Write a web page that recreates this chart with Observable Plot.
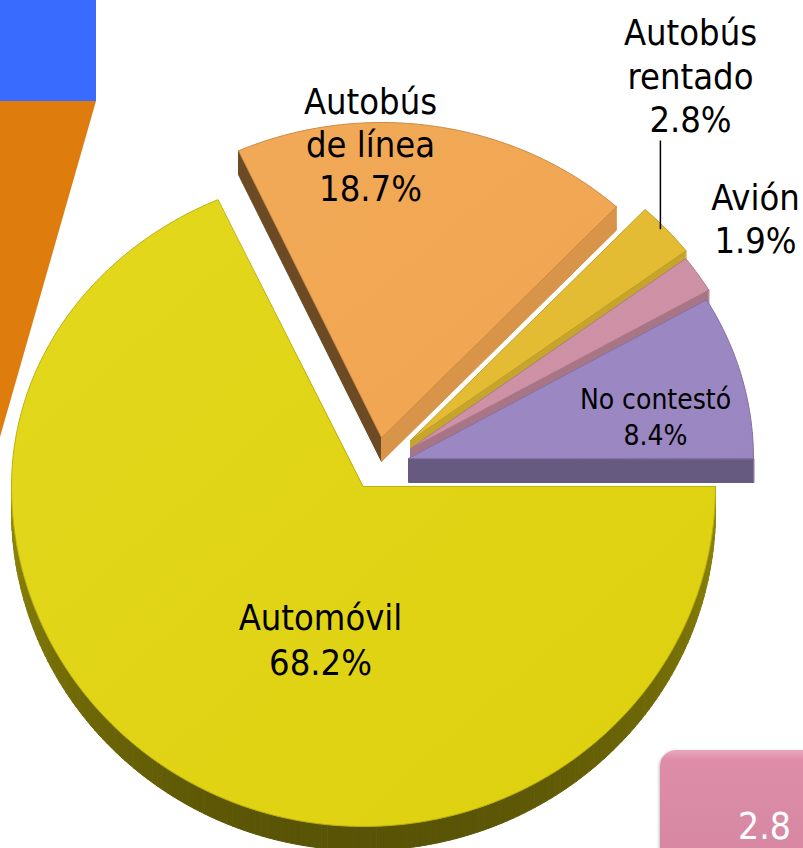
<!DOCTYPE html>
<html><head><meta charset="utf-8">
<script src="https://cdn.jsdelivr.net/npm/d3@7"></script>
<script src="https://cdn.jsdelivr.net/npm/@observablehq/plot@0.6"></script>
<style>
html,body{margin:0;padding:0;background:#fff;overflow:hidden}
#wrap{position:relative;width:803px;height:848px;overflow:hidden}
#chart{position:absolute;left:0;top:0}
.deco{position:absolute}
</style></head><body>
<div id="wrap">
<div id="chart"></div>
<div class="deco" style="left:0;top:0;width:96px;height:101px;background:#3A6BFF"></div>
<div class="deco" style="left:0;top:101px;width:96px;height:336px;background:#DE7D0E;clip-path:polygon(0 0,100% 0,0 100%)"></div>
<div class="deco" style="left:660px;top:750px;width:180px;height:140px;border-radius:16px;background:linear-gradient(#E9A7BE 0px,#DE8DA8 10px,#D98AA4 60px,#D4849F 100%);box-shadow:-1px 1px 3px rgba(0,0,0,0.25)"></div>
<div class="deco" style="left:738px;top:808px;height:38px;line-height:38px;color:#fff;font-size:37px;font-family:'DejaVu Sans Condensed','DejaVu Sans',sans-serif;font-stretch:condensed;white-space:nowrap">2.8</div>
</div>
<script>
// ---- data ----
const categories = ["Automóvil", "Autobús de línea", "Autobús rentado", "Avión", "No contestó"];
const shares = [68.2, 18.7, 2.8, 1.9, 8.4];
const labelLines = [["Automóvil"], ["Autobús", "de línea"], ["Autobús", "rentado"], ["Avión"], ["No contestó"]];

// ---- styling / layout ----
const faceColors = ["#DDD00E", "#F0A450", "#E2BA30", "#CC8FA3", "#9A86C0"];
const faceColors2 = ["#E4D81E", "#F2AA58", "#E4BE36", "#CF93A7", "#9C89C3"];
const radialShade = [0.6, 0.9, 0.88, 0.82, 0.67];
const explode = [[0, 0], [18, -49], [47, -46], [47, -38], [45, -28]];
const sliceRx = [352, 345, 345, 345, 345];
const pieCenter = [363, 486];
const ryTop = 315, ryBottom = 340, depth = 24;
const labelPos = [[320, 638], [370, 143], [690, 74], [755, 217], [655, 415]];
const labelSize = [36, 36, 36, 36, 28];
const labelLead = [1.25, 1.2, 1.22, 1.2, 1.29];
const fontFamily = "'DejaVu Sans Condensed', 'DejaVu Sans', sans-serif";

const W = 803, H = 848;
const pie = d3.pie().sort(null).startAngle(Math.PI / 2).endAngle(Math.PI / 2 + 2 * Math.PI)(shares);

function shade(hex, f) {
  const c = d3.rgb(hex);
  return d3.rgb(c.r * f, c.g * f, c.b * f).formatHex();
}

const marks = [];
const sliceGeom = pie.map((p, i) => {
  const cx = pieCenter[0] + explode[i][0], cy = pieCenter[1] + explode[i][1];
  const rx = sliceRx[i];
  const pts = [[cx, cy]];
  const steps = Math.max(2, Math.ceil((p.endAngle - p.startAngle) / (Math.PI / 180)));
  for (let k = 0; k <= steps; k++) {
    const a = p.startAngle + (p.endAngle - p.startAngle) * k / steps;
    const ux = Math.sin(a), uy = -Math.cos(a);
    pts.push([cx + rx * ux, cy + (uy < 0 ? ryTop : ryBottom) * uy]);
  }
  return {cx, cy, rx, pts, mid: (p.startAngle + p.endAngle) / 2};
});

sliceGeom.forEach((g, i) => {
  const pts = g.pts, n = pts.length;
  const ctr = [d3.mean(pts, d => d[0]), d3.mean(pts, d => d[1])];
  const quads = [];
  for (let j = 0; j < n; j++) {
    const p0 = pts[j], p1 = pts[(j + 1) % n];
    const dx = p1[0] - p0[0], dy = p1[1] - p0[1];
    const len = Math.hypot(dx, dy) || 1;
    let nx = dy / len, ny = -dx / len;
    const mx = (p0[0] + p1[0]) / 2 - ctr[0], my = (p0[1] + p1[1]) / 2 - ctr[1];
    if (mx * nx + my * ny < 0) { nx = -nx; ny = -ny; }
    if (ny <= 0.001) continue;
    const radial = (j === 0 || j === n - 1);
    let f;
    if (radial) f = nx < 0 ? 0.45 : radialShade[i];
    else f = 0.66 - 0.26 * ny;
    const c = shade(faceColors[i], f);
    const q = i + "-" + j;
    quads.push({x: p0[0], y: p0[1], q, c});
    quads.push({x: p1[0], y: p1[1], q, c});
    quads.push({x: p1[0], y: p1[1] + depth, q, c});
    quads.push({x: p0[0], y: p0[1] + depth, q, c});
  }
  marks.push(Plot.line(quads, {x: "x", y: "y", z: "q", fill: "c", stroke: "c", strokeWidth: 1, curve: "linear-closed"}));
  marks.push(Plot.line(pts.map(([x, y]) => ({x, y})), {
    x: "x", y: "y", fill: `url(#face${i})`, stroke: shade(faceColors[i], 0.85), strokeWidth: 1, curve: "linear-closed"
  }));
});

// leader line for "Autobús rentado"
{
  const g = sliceGeom[2];
  const ux = Math.sin(g.mid), uy = -Math.cos(g.mid);
  const ex = g.cx + g.rx * ux - 6, ey = g.cy + ryTop * uy;
  marks.push(Plot.link([{x: ex, y1: labelPos[2][1] + 66, y2: ey}], {x1: "x", x2: "x", y1: "y1", y2: "y2", stroke: "#000", strokeWidth: 1.5}));
}

labelLines.forEach((lines, i) => {
  marks.push(Plot.text([{x: labelPos[i][0], y: labelPos[i][1], t: lines.concat([shares[i].toFixed(1) + "%"]).join("\n")}], {
    x: "x", y: "y", text: "t", fontSize: labelSize[i], lineHeight: labelLead[i], fill: "#000",
    fontFamily, textAnchor: "middle", lineAnchor: "middle"
  }));
});

const svg = Plot.plot({
  width: W, height: H, margin: 0,
  x: {domain: [0, W], range: [0, W], axis: null},
  y: {domain: [0, H], range: [0, H], axis: null},
  color: {type: "identity"},
  style: {background: "transparent", fontFamily},
  marks
});

const ns = "http://www.w3.org/2000/svg";
const defs = document.createElementNS(ns, "defs");
faceColors.forEach((c, i) => {
  const lg = document.createElementNS(ns, "linearGradient");
  lg.setAttribute("id", "face" + i);
  lg.setAttribute("x1", "0"); lg.setAttribute("y1", "0");
  lg.setAttribute("x2", "1"); lg.setAttribute("y2", "1");
  [[0, faceColors2[i]], [1, c]].forEach(([o, col]) => {
    const s = document.createElementNS(ns, "stop");
    s.setAttribute("offset", o); s.setAttribute("stop-color", col);
    lg.appendChild(s);
  });
  defs.appendChild(lg);
});
svg.insertBefore(defs, svg.firstChild);
svg.querySelectorAll("text").forEach(t => t.setAttribute("font-stretch", "condensed"));
document.getElementById("chart").appendChild(svg);
</script>
</body></html>
